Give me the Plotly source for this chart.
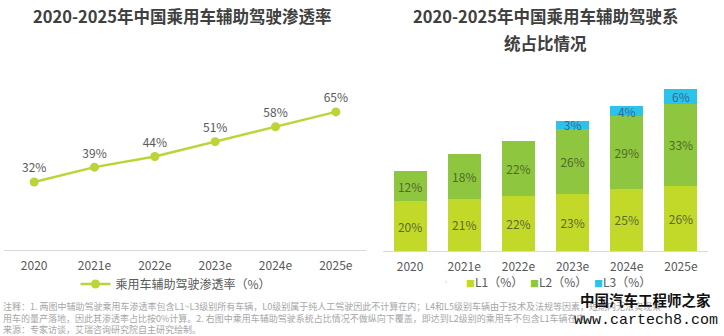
import plotly.graph_objects as go

years = ["2020", "2021e", "2022e", "2023e", "2024e", "2025e"]
penetration = [32, 39, 44, 51, 58, 65]
l1 = [20, 21, 22, 23, 25, 26]
l2 = [12, 18, 22, 26, 29, 33]
l3 = [None, None, None, 3, 4, 6]

W, H = 724, 336
FONT = "Noto Sans CJK SC"

def px(x):
    return x / W

def py(y):
    return 1 - y / H

def pct(vals):
    return [f"{v}%" if v is not None else "" for v in vals]

fig = go.Figure()

fig.add_trace(go.Scatter(
    x=years, y=penetration, mode="lines+markers+text",
    name="乘用车辅助驾驶渗透率（%）",
    line=dict(color="#bcd437", width=2.5),
    marker=dict(color="#bcd437", size=9),
    text=pct(penetration), textposition="top center",
    textfont=dict(size=12, color="#595959", family=FONT),
    cliponaxis=False,
    xaxis="x", yaxis="y", legend="legend",
))

bar_specs = [
    ("L1（%）", l1, "#c2d92a", "#5b6a2e"),
    ("L2（%）", l2, "#8fc640", "#4f6a2a"),
    ("L3（%）", l3, "#2cc3ea", "#2f6c96"),
]
for i, (name, vals, col, tcol) in enumerate(bar_specs):
    fig.add_trace(go.Bar(
        x=years, y=vals, name=name, marker=dict(color=col, line=dict(width=0)),
        width=0.61, text=pct(vals), textposition="inside",
        insidetextanchor="middle", constraintext="none",
        textfont=dict(size=12, color=tcol, family=FONT),
        cliponaxis=False, showlegend=False, legendgroup=name,
        xaxis="x2", yaxis="y2",
    ))
    # compact legend entry: coloured square drawn in the label, symbol hidden
    fig.add_trace(go.Scatter(
        x=[None], y=[None], mode="markers", marker=dict(opacity=0, size=1),
        name=f"<span style='color:{col};font-size:9px'>■</span>{name}",
        legendgroup=name, showlegend=True,
        legendwidth=19 if i < 2 else 60,
        xaxis="x2", yaxis="y2", legend="legend2",
    ))

axis_common = dict(
    showgrid=False, zeroline=False, showline=True, linecolor="#d9d9d9",
    linewidth=1, ticks="", ticklabelstandoff=5,
    tickfont=dict(size=12, color="#595959", family=FONT),
)

fig.update_layout(
    width=W, height=H, margin=dict(l=0, r=0, t=0, b=0),
    paper_bgcolor="white", plot_bgcolor="white",
    barmode="stack", bargap=0.39,
    font=dict(family=FONT, color="#595959"),
    xaxis=dict(domain=[px(4), px(366)], anchor="y", type="category",
               range=[-0.5, 5.5], **axis_common),
    yaxis=dict(domain=[py(250), py(80)], anchor="x", range=[0, 80],
               visible=False),
    xaxis2=dict(domain=[px(383), px(708)], anchor="y2", type="category",
                range=[-0.5, 5.5], **axis_common),
    yaxis2=dict(domain=[py(251), py(80)], anchor="x2", range=[0, 68.4],
                visible=False),
    legend=dict(orientation="h", x=px(176), xanchor="center", y=py(284),
                yanchor="middle", font=dict(size=12, color="#595959", family=FONT),
                bgcolor="rgba(0,0,0,0)", itemwidth=30),
    legend2=dict(orientation="h", x=px(426), xanchor="left", y=py(282),
                 yanchor="middle", font=dict(size=12, color="#595959", family=FONT),
                 bgcolor="rgba(0,0,0,0)", itemwidth=30, traceorder="normal"),
    showlegend=True,
)

title_font = dict(size=16.5, color="#404040", family=FONT)
annos = [
    dict(text="<b>2020-2025年中国乘用车辅助驾驶渗透率</b>", x=px(182), y=py(16)),
    dict(text="<b>2020-2025年中国乘用车辅助驾驶系</b>", x=px(546), y=py(16)),
    dict(text="<b>统占比情况</b>", x=px(545), y=py(43)),
]
for a in annos:
    fig.add_annotation(xref="paper", yref="paper", showarrow=False,
                       xanchor="center", yanchor="middle", font=title_font, **a)

notes = [
    "注释：1. 两图中辅助驾驶乘用车渗透率包含L1~L3级别所有车辆，L0级别属于纯人工驾驶因此不计算在内；L4和L5级别车辆由于技术及法规等因素，短期内无法实现乘",
    "用车的量产落地，因此其渗透率占比按0%计算。2. 右图中乘用车辅助驾驶系统占比情况不做纵向下覆盖，即达到L2级别的乘用车不包含L1车辆在内。",
    "来源：专家访谈，艾瑞咨询研究院自主研究绘制。",
]
fig.add_annotation(xref="paper", yref="paper", showarrow=False,
                   text="<br>".join(notes), x=px(1), y=py(318), xanchor="left",
                   yanchor="middle", align="left",
                   font=dict(size=9, color="#a6a6a6", family=FONT))

fig.add_annotation(xref="paper", yref="paper", showarrow=False,
                   text="<b>中国汽车工程师之家</b>", x=px(645), y=py(299),
                   xanchor="center", yanchor="middle",
                   font=dict(size=14.5, color="#111111", family=FONT))
fig.add_annotation(xref="paper", yref="paper", showarrow=False,
                   text="www.cartech8.com", x=px(646), y=py(320),
                   xanchor="center", yanchor="middle",
                   font=dict(size=15, color="#111111", family="Liberation Mono"))

fig.write_html("out.html")
